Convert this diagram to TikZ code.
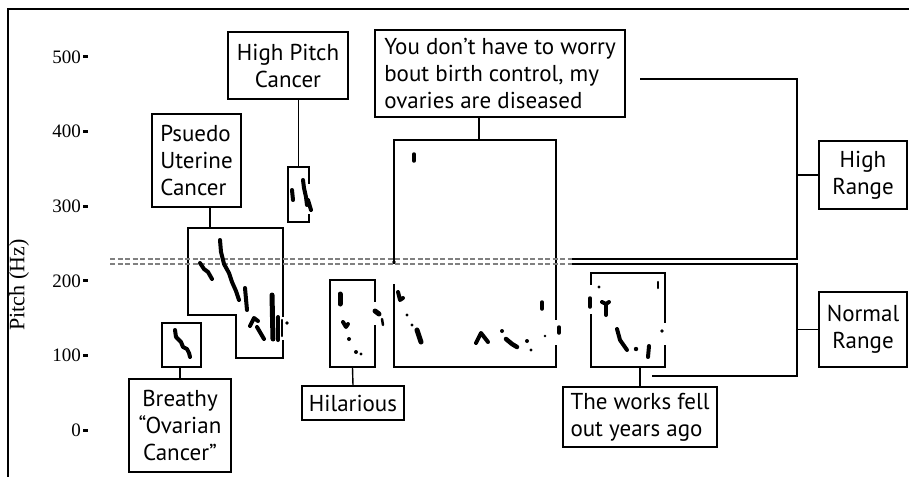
\documentclass[tikz,border=0pt]{standalone}
\usepackage{fontspec}
\setsansfont{PT Sans}
\newfontfamily\axisfont{Liberation Serif}

\begin{document}
\begin{tikzpicture}[x=1pt,y=-1pt]
    \tikzset{
      saybox/.style={draw, line width=1.4pt, inner sep=0pt, align=center,
        font=\sffamily\fontsize{23}{27}\selectfont},
      trackbox/.style={draw, line width=1.5pt, inner sep=0pt},
      wire/.style={line width=1.4pt},
      cut/.style={line width=1.1pt, gray, dash pattern=on 5pt off 2.5pt},
      gap/.style={fill=white},
      track/.style={line width=4pt, line cap=round, line join=round},
      num/.style={inner sep=1pt, font=\axisfont\fontsize{19}{19}\selectfont}
    }
    \useasboundingbox (0,0) rectangle (909,476);
    % frame
    \draw[line width=2pt] (8,480) -- (8,9) -- (912,9);

    % axis
    \node[num, rotate=90, font=\axisfont\fontsize{22}{22}\selectfont] (ylab) at (19,285) {Pitch (Hz)};
    \foreach \f in {0,100,...,500} {
      \node[num, anchor=east] (tick\f) at (82,{430-0.746*\f}) {\f};
      \fill ([xshift=1pt,yshift=-1.5pt]tick\f.east) rectangle ++(5,-3);
    }

    % captions
    \node[saybox, minimum width=120pt, minimum height=67pt] (hp) at (288,65.5) {High Pitch\\Cancer};
    \node[saybox, minimum width=89pt, minimum height=93pt, align=left] (pu) at (196.5,160.5) {Psuedo\\Uterine\\Cancer};
    \node[saybox, minimum width=102pt, minimum height=93pt] (br) at (180,425.5) {Breathy\\“Ovarian\\Cancer”};
    \node[saybox, minimum width=102pt, minimum height=34pt] (hi) at (353,403) {Hilarious};
    \node[saybox, minimum width=250pt, minimum height=87pt, align=left] (yd) at (500,73.5) {You don’t have to worry\\bout birth control, my\\ovaries are diseased};
    \node[saybox, minimum width=154pt, minimum height=60pt, align=left] (wk) at (640,417) {The works fell\\out years ago};
    \node[saybox, minimum width=88pt, minimum height=68pt] (hr) at (863,175) {High\\Range};
    \node[saybox, minimum width=88pt, minimum height=75pt] (nr) at (863,329.5) {Normal\\Range};

    % track boxes
    \node[trackbox, minimum width=21pt, minimum height=55pt] (hpbox) at (298.5,194.5) {};
    \node[trackbox, minimum width=39pt, minimum height=44pt] (brbox) at (181.5,345) {};
    \node[trackbox, minimum width=45pt, minimum height=87pt] (hibox) at (352.5,323.5) {};
    \node[trackbox, minimum width=162pt, minimum height=227pt] (ydbox) at (475,253.5) {};
    \node[trackbox, minimum width=74pt, minimum height=94pt] (wkbox) at (628,320) {};
    \draw[wire, line width=1.5pt] (188,228) -- (283,228) -- (283,358) -- (236,358) -- (236,315) -- (188,315) -- cycle;
    \coordinate (putop) at (210,228);

    % connectors
    \draw[wire] (hpbox.north) -- (hpbox.north |- hp.south);
    \draw[wire] (putop) -- (putop |- pu.south);
    \draw[wire] (br.north) -- (br.north |- brbox.south);
    \draw[wire] (hibox.south) -- (hi.north);
    \draw[wire] ([xshift=4pt]ydbox.north) -- ([xshift=4pt]ydbox.north |- yd.south);
    \draw[wire] (wk.north) -- (wk.north |- wkbox.south);

    % range brackets
    \coordinate (hrtop) at (640,79);
    \coordinate (hrbar) at (797,0);
    \coordinate (split) at (572,259);
    \coordinate (lowsplit) at (572,264);
    \coordinate (nrend) at (652,376);
    \draw[wire] (hrtop) -| (hrbar |- split) -- (split);
    \draw[wire] (lowsplit) -| (hrbar |- nrend) -- (nrend);
    \draw[wire] (hr.west) -- (hr.west -| hrbar);
    \draw[wire] (nr.west) -- (nr.west -| hrbar);

    % breaks in the box edges
    \fill[gap] (280,317) rectangle (286,340);
    \fill[gap] (307,184) rectangle (311,214);
    \fill[gap] (373,302) rectangle (377,325);
    \fill[gap] (392,264) rectangle (396,284);
    \fill[gap] (554,320) rectangle (558,345);
    \fill[gap] (589,285) rectangle (593,314);
    \fill[gap] (663,323) rectangle (667,345);

    % split between ranges
    \coordinate (cutl) at (110,259);
    \coordinate (cutl2) at (110,264);
    \draw[cut] (cutl) -- (split);
    \draw[cut] (cutl2) -- (lowsplit);

    % pitch tracks
    \draw[track] (200,263) -- (204,269) -- (208,272) -- (212,279);
    \draw[track] (220,240) -- (221,252) -- (224,264) -- (229,273) -- (232,282) -- (236,291) -- (239,300);
    \draw[track] (245,288) -- (247,310);
    \draw[track] (250,326) -- (254,318) -- (258,321);
    \draw[track] (257,327) -- (264,339);
    \draw[track, line width=5pt] (272,295) -- (273,339);
    \draw[track] (278,317) -- (278,340);
    \draw[track, line width=2.5pt] (282,320) -- (282,336);
    \fill (287,323) circle (1.8);

    \draw[track] (175,330) -- (176,337) -- (181,342) -- (183,347) -- (187,349) -- (189,353) -- (190,357);

    \draw[track] (303,180) -- (304,188) -- (306,197) -- (307,205);
    \draw[track] (308,200) -- (311,210);
    \draw[track] (292,190) -- (293,200);

    \draw[track, line width=5pt] (340,294) -- (340,304);
    \draw[track] (343,322) -- (346,327) -- (348,324);
    \fill (349,339) circle (2);
    \fill (356,352) circle (2);
    \fill (361,354) circle (1.6);
    \draw[track, line width=5pt] (375,311) -- (379,314);
    \draw[track, line width=2.5pt] (382,319) -- (383,325);

    \draw[track, line width=3.5pt] (414,154) -- (414,161);
    \fill (394,262) circle (1.8);
    \draw[track] (398,292) -- (400,300) -- (403,298);
    \fill (407,315) circle (1.6);
    \fill (412,325) circle (1.6);
    \draw[track, line width=5pt] (417,330) -- (421,342);
    \draw[track] (476,343) -- (481,333) -- (488,342);
    \fill (502,331) circle (2);
    \draw[track, line width=4.5pt] (506,339) -- (512,344) -- (517,347);
    \fill (527,341) circle (2);
    \fill (531,350) circle (1.6);
    \fill (545,336) circle (1.4);
    \draw[track, line width=3.5pt] (542,302) -- (542,309);
    \draw[track, line width=3.5pt] (559,327) -- (559,333);

    \draw[track, line width=3.5pt] (590,298) -- (590,307);
    \fill (599,287) circle (1.7);
    \draw[track] (602,302) -- (606,304) -- (609,302);
    \draw[track] (606,304) -- (606,315);
    \draw[track] (617,329) -- (620,340) -- (627,350);
    \fill (636,349) circle (2.2);
    \draw[track] (649,346) -- (648,357);
    \draw[track, line width=2.5pt] (658,282) -- (658,288);
    \fill (662,331) circle (1.8);
  \end{tikzpicture}
\end{document}
